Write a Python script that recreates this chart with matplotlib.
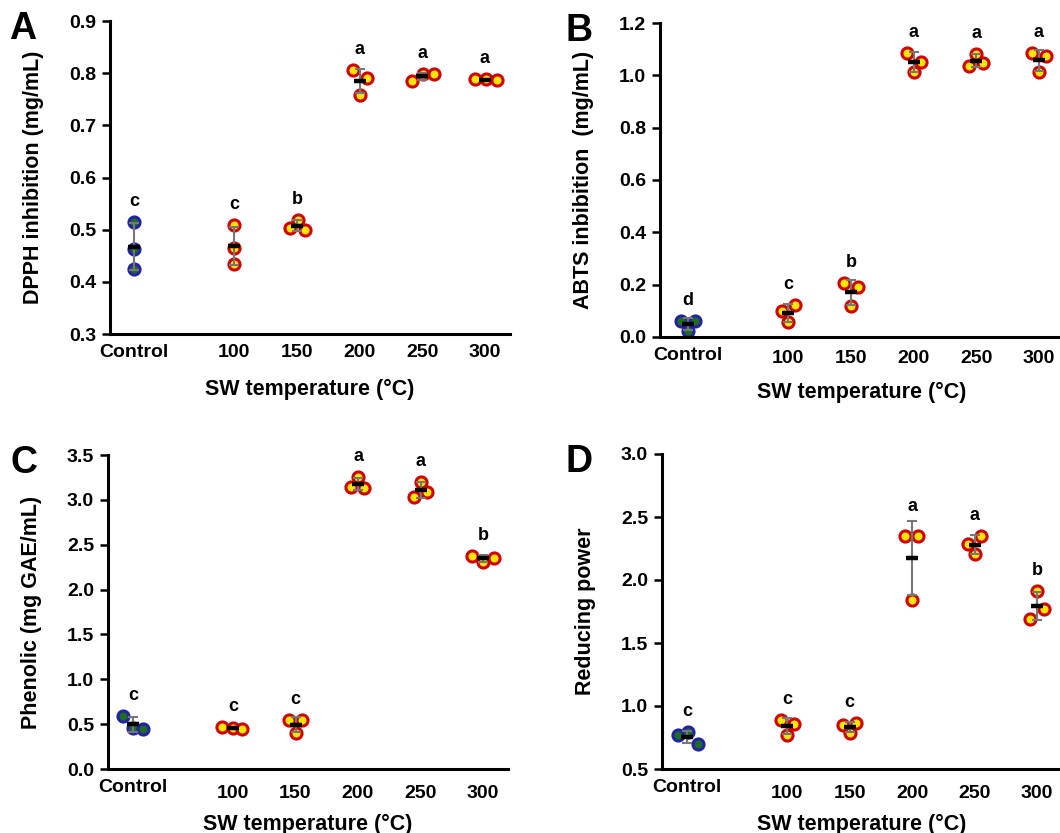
import numpy as np
import matplotlib
matplotlib.use('Agg')
import matplotlib.pyplot as plt
import matplotlib.transforms as mtrans

plt.rcParams['font.family'] = ['Liberation Sans', 'DejaVu Sans']
plt.rcParams['font.weight'] = 'bold'

# categories and where they sit on the x axis (Control is set apart)
groups = ['Control', '100', '150', '200', '250', '300']
xpos = [0, 1.6, 2.6, 3.6, 4.6, 5.6]

# replicate values per group (3 each)
dpph = [[0.515, 0.4625, 0.4255], [0.508, 0.464, 0.434], [0.504, 0.519, 0.4995],
        [0.806, 0.790, 0.759], [0.785, 0.798, 0.798], [0.788, 0.788, 0.787]]
abts = [[0.062, 0.062, 0.024], [0.098, 0.123, 0.056], [0.205, 0.190, 0.117],
        [1.087, 1.051, 1.013], [1.036, 1.083, 1.047], [1.087, 1.073, 1.011]]
phenolic = [[0.594, 0.457, 0.445], [0.464, 0.457, 0.445], [0.542, 0.542, 0.401],
            [3.140, 3.252, 3.129], [3.036, 3.203, 3.092], [2.379, 2.305, 2.357]]
reducing = [[0.772, 0.793, 0.698], [0.892, 0.860, 0.767], [0.852, 0.865, 0.786],
            [2.347, 2.347, 1.839], [2.286, 2.352, 2.206], [1.910, 1.772, 1.693]]

# horizontal spread of the replicate dots
jit_a = [[0, 0, 0], [0, 0, 0], [-0.11, 0.02, 0.13],
         [-0.10, 0.12, 0.01], [-0.16, 0.02, 0.19], [-0.16, 0.02, 0.19]]
jit_b = [[-0.11, 0.11, 0], [-0.10, 0.11, 0], [-0.11, 0.11, 0],
         [-0.11, 0.11, 0], [-0.11, 0, 0.11], [-0.11, 0.11, 0]]
jit_c = [[-0.16, 0, 0.16], [-0.17, 0, 0.15], [-0.11, 0.11, 0],
         [-0.11, 0, 0.10], [-0.11, 0, 0.11], [-0.18, 0, 0.17]]
jit_d = [[-0.14, 0.01, 0.17], [-0.10, 0.11, 0], [-0.11, 0.11, 0],
         [-0.11, 0.09, 0], [-0.11, 0.10, 0], [0, 0.11, -0.11]]

# significance letters
let_a = ['c', 'c', 'b', 'a', 'a', 'a']
let_b = ['d', 'c', 'b', 'a', 'a', 'a']
let_c = ['c', 'c', 'c', 'a', 'a', 'b']
let_d = ['c', 'c', 'c', 'a', 'a', 'b']

W, H = 1060, 833
fig = plt.figure(figsize=(W / 100, H / 100), dpi=100)


def panel(rect, vals, jit, letters, ylim, yticks, ylabel, tag, tagx, xmin,
          numdrop):
    l, t, w, h = rect
    ax = fig.add_axes([l / W, 1 - (t + h) / H, w / W, h / H])
    ax.set_xlim(xmin, 6.0)
    ax.set_ylim(*ylim)
    px_per_unit = h / (ylim[1] - ylim[0])
    for i in range(len(groups)):
        v = np.array(vals[i])
        xs = xpos[i] + np.array(jit[i])
        if i == 0:
            fc, ec = '#1e6e1e', '#2323a8'
        else:
            fc, ec = '#ffe600', '#d00000'
        ax.plot(xs, v, 'o', ms=8, mfc=fc, mec=ec, mew=2.2, zorder=2,
                clip_on=False)
        m = v.mean()
        sd = v.std(ddof=1)
        ax.errorbar(xpos[i], m, yerr=sd, fmt='none', ecolor='#777777',
                    elinewidth=1.5, capsize=3.5, capthick=1.5, zorder=3)
        ax.plot([xpos[i]], [m], marker='_', ms=9, mew=3.2, color='black',
                zorder=4)
        top = max(v.max() + 6.5 / px_per_unit, m + sd)
        ax.annotate(letters[i], (xpos[i], top), xytext=(0, 4),
                    textcoords='offset points', ha='center', va='bottom',
                    fontsize=13, fontweight='bold')
    ax.set_yticks(yticks)
    ax.set_yticklabels(['%.1f' % y for y in yticks])
    ax.set_xticks(xpos)
    ax.set_xticklabels(groups)
    ax.tick_params(axis='y', direction='out', length=6, width=1.8, pad=4,
                   labelsize=14)
    ax.tick_params(axis='x', length=0, pad=7, labelsize=14)
    for lab in ax.get_yticklabels():
        lab.set_fontweight('bold')
    for k, lab in enumerate(ax.get_xticklabels()):
        lab.set_fontweight('bold')
        if k > 0 and numdrop:
            lab.set_transform(lab.get_transform() + mtrans.ScaledTranslation(
                0, -numdrop / 100, fig.dpi_scale_trans))
    for s in ['top', 'right']:
        ax.spines[s].set_visible(False)
    for s in ['left', 'bottom']:
        ax.spines[s].set_linewidth(2.2)
    ax.set_ylabel(ylabel, fontsize=15.5, fontweight='bold')
    ax.yaxis.set_label_coords(-66 / w, 0.5)
    ax.set_xlabel('SW temperature (°C)', fontsize=15.5, fontweight='bold')
    ax.xaxis.set_label_coords(0.5, -55 / h)
    ax.xaxis.label.set_va('center')
    fig.text(tagx / W, 1 - (t + 8) / H, tag, fontsize=27,
             fontweight='bold', ha='left', va='center')
    return ax


panel((110, 21, 400, 313), dpph, jit_a, let_a, (0.3, 0.9),
      [0.3, 0.4, 0.5, 0.6, 0.7, 0.8, 0.9], 'DPPH inhibition (mg/mL)', 'A', 9,
      -0.38, 0)
panel((660, 23, 404, 314), abts, jit_b, let_b, (0.0, 1.2),
      [0.0, 0.2, 0.4, 0.6, 0.8, 1.0, 1.2], 'ABTS inbibition  (mg/mL)', 'B', 566,
      -0.45, 3)
panel((108, 455, 400, 314), phenolic, jit_c, let_c, (0.0, 3.5),
      [0.0, 0.5, 1.0, 1.5, 2.0, 2.5, 3.0, 3.5], 'Phenolic (mg GAE/mL)', 'C', 10,
      -0.40, 6)
panel((662, 454, 400, 315), reducing, jit_d, let_d, (0.5, 3.0),
      [0.5, 1.0, 1.5, 2.0, 2.5, 3.0], 'Reducing power', 'D', 566,
      -0.40, 6)

fig.savefig('out.png', dpi=100)
